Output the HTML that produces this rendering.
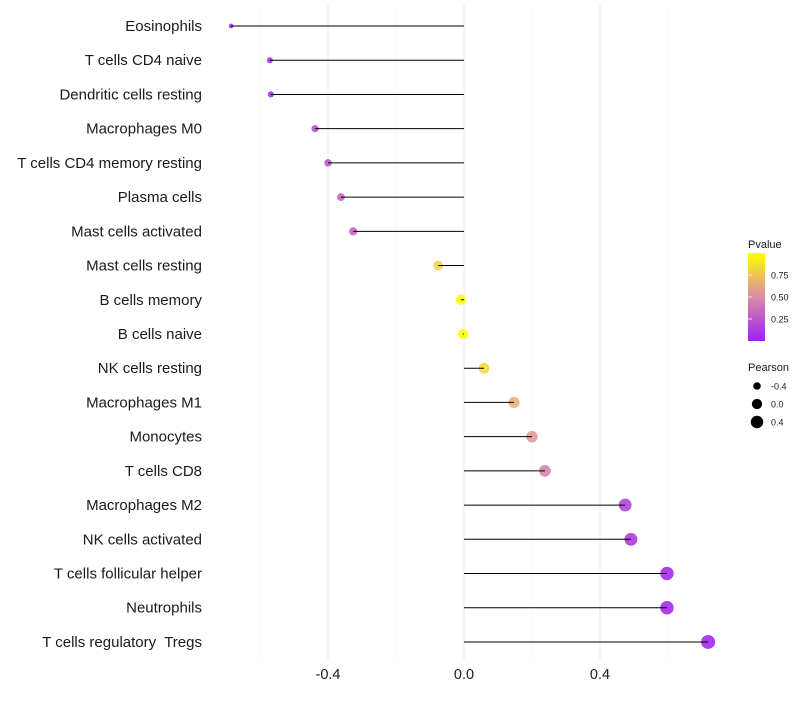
<!DOCTYPE html>
<html><head><meta charset="utf-8"><style>
body{margin:0;background:#fff;font-family:"Liberation Sans",sans-serif;}
text{white-space:pre;}
</style></head><body>
<svg id="c" width="800" height="700" xmlns="http://www.w3.org/2000/svg"></svg>
<script>
const categories=["Eosinophils","T cells CD4 naive","Dendritic cells resting","Macrophages M0","T cells CD4 memory resting","Plasma cells","Mast cells activated","Mast cells resting","B cells memory","B cells naive","NK cells resting","Macrophages M1","Monocytes","T cells CD8","Macrophages M2","NK cells activated","T cells follicular helper","Neutrophils","T cells regulatory  Tregs"];
const pearson=[-0.685,-0.571,-0.568,-0.438,-0.40,-0.362,-0.326,-0.076,-0.009,-0.003,0.059,0.147,0.2,0.238,0.474,0.491,0.597,0.597,0.718];
const pvalues=[0.02,0.05,0.05,0.2,0.25,0.3,0.3,0.8,0.98,0.98,0.85,0.65,0.55,0.45,0.15,0.1,0.03,0.03,0.01];
const xTicks=[-0.4,0.0,0.4];
const xMinor=[-0.6,-0.2,0.2,0.6];
const colorTicks=[0.25,0.5,0.75];
const sizeLegend=[-0.4,0.0,0.4];
const NS="http://www.w3.org/2000/svg";
const svg=document.getElementById('c');
const x=v=>464+v*340;
const y=i=>26+i*34.22;
const rad=v=>Math.sqrt(Math.max(2.5,26.7+31*v));
function col(p){
 const stops=[[0,[160,32,240]],[0.5,[218,140,165]],[1,[255,255,0]]];
 let a=stops[0],b=stops[1]; if(p>0.5){a=stops[1];b=stops[2];}
 const t=(p-a[0])/(b[0]-a[0]);
 return 'rgb('+a[1].map((c,k)=>Math.round(c+(b[1][k]-c)*t)).join(',')+')';
}
function el(tag,attrs,txt){const e=document.createElementNS(NS,tag);for(const k in attrs)e.setAttribute(k,attrs[k]);if(txt!==undefined)e.textContent=txt;svg.appendChild(e);return e;}
xMinor.forEach(v=>{const l=el('line',{x1:x(v),x2:x(v),y1:5,y2:660,stroke:'#f3f3f3','stroke-width':0.6});

});
xTicks.forEach(v=>{const l=el('line',{x1:x(v),x2:x(v),y1:5,y2:660,stroke:'#ebebeb','stroke-width':1.1});


const t=el('text',{x:x(v),y:679,'text-anchor':'middle','font-size':14.5,fill:'#1a1a1a'},v.toFixed(1));

});
categories.forEach((c,i)=>{
 const t=el('text',{x:202,y:y(i)+5,'text-anchor':'end','font-size':15,fill:'#1a1a1a'},c);
 
 
 const d=el('circle',{cx:x(pearson[i]),cy:y(i),r:rad(pearson[i]),fill:col(pvalues[i]),'fill-opacity':0.88});
 
 
 const l=el('line',{x1:x(0),x2:x(pearson[i]),y1:y(i),y2:y(i),stroke:'#000','stroke-width':1});
 
 
});
const g=el('defs',{});
g.innerHTML='<linearGradient id="gr" x1="0" y1="1" x2="0" y2="0"><stop offset="0" stop-color="rgb(160,32,240)"/><stop offset="0.5" stop-color="rgb(218,140,165)"/><stop offset="1" stop-color="rgb(255,255,0)"/></linearGradient>';
const lt=el('text',{x:748,y:248,'font-size':11,fill:'#1a1a1a'},'Pvalue');


const bar=el('rect',{x:748,y:253,width:17,height:88,fill:'url(#gr)'});


colorTicks.forEach(v=>{const yy=341-v*88;
 const tk=el('line',{x1:748,x2:752,y1:yy,y2:yy,stroke:'#fff','stroke-width':0.8});
 
 
 const t=el('text',{x:771,y:yy+3.5,'font-size':9,fill:'#1a1a1a'},v.toFixed(2));
 
 });
const st=el('text',{x:748,y:371,'font-size':11,fill:'#1a1a1a'},'Pearson');


sizeLegend.forEach((v,k)=>{const yy=386+k*18;
 const c=el('circle',{cx:757,cy:yy,r:rad(v),fill:'#000'});
 
 
 const t=el('text',{x:771,y:yy+3.5,'font-size':9,fill:'#1a1a1a'},v.toFixed(1));
 
 });
</script>
</body></html>
